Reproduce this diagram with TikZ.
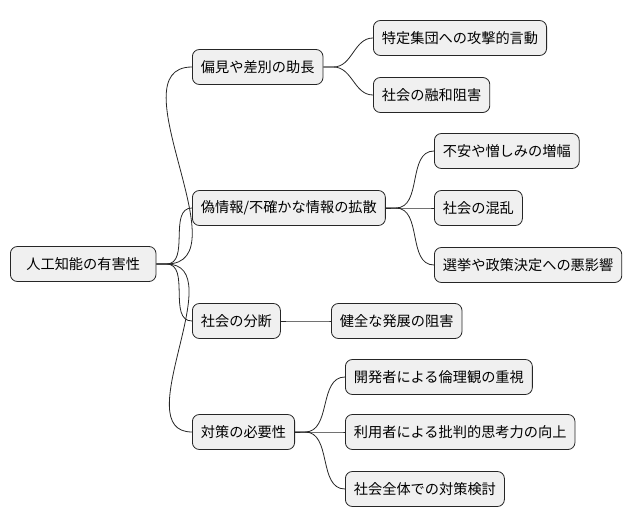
\documentclass[tikz,border=0pt]{standalone}
\usepackage{fontspec}
\setmainfont{Noto Sans CJK JP}
\begin{document}
\begin{tikzpicture}[x=1pt,y=-1pt,
  box/.style={draw=black!85,fill=black!6,rounded corners=7pt,line width=0.8pt,minimum height=35pt,inner xsep=8.5pt,font=\fontsize{14.2}{16}\selectfont,anchor=west},
  lk/.style={draw=black!85,line width=0.8pt}]
\useasboundingbox (0,0) rectangle (633,527);
\node[box,inner xsep=16pt] (r) at (10,264) {人工知能の有害性};
\node[box] (a) at (192,67) {偏見や差別の助長};
\node[box] (b) at (192,208) {偽情報/不確かな情報の拡散};
\node[box] (c) at (192,321) {社会の分断};
\node[box] (d) at (192,432) {対策の必要性};
\node[box] (a1) at (373,38) {特定集団への攻撃的言動};
\node[box] (a2) at (373,95) {社会の融和阻害};
\node[box] (b1) at (434,151) {不安や憎しみの増幅};
\node[box] (b2) at (434,208) {社会の混乱};
\node[box] (b3) at (434,265) {選挙や政策決定への悪影響};
\node[box] (c1) at (331,321) {健全な発展の阻害};
\node[box] (d1) at (345,377) {開発者による倫理観の重視};
\node[box] (d2) at (345,432) {利用者による批判的思考力の向上};
\node[box] (d3) at (345,489) {社会全体での対策検討};
\foreach \p/\c in {r/a,r/b,r/c,r/d,a/a1,a/a2,b/b1,b/b2,b/b3,c/c1,d/d1,d/d2,d/d3}{
  \path[lk] (\p.east) -- ++(10,0) to[out=0,in=180] (\c.west);
}
\end{tikzpicture}
\end{document}
